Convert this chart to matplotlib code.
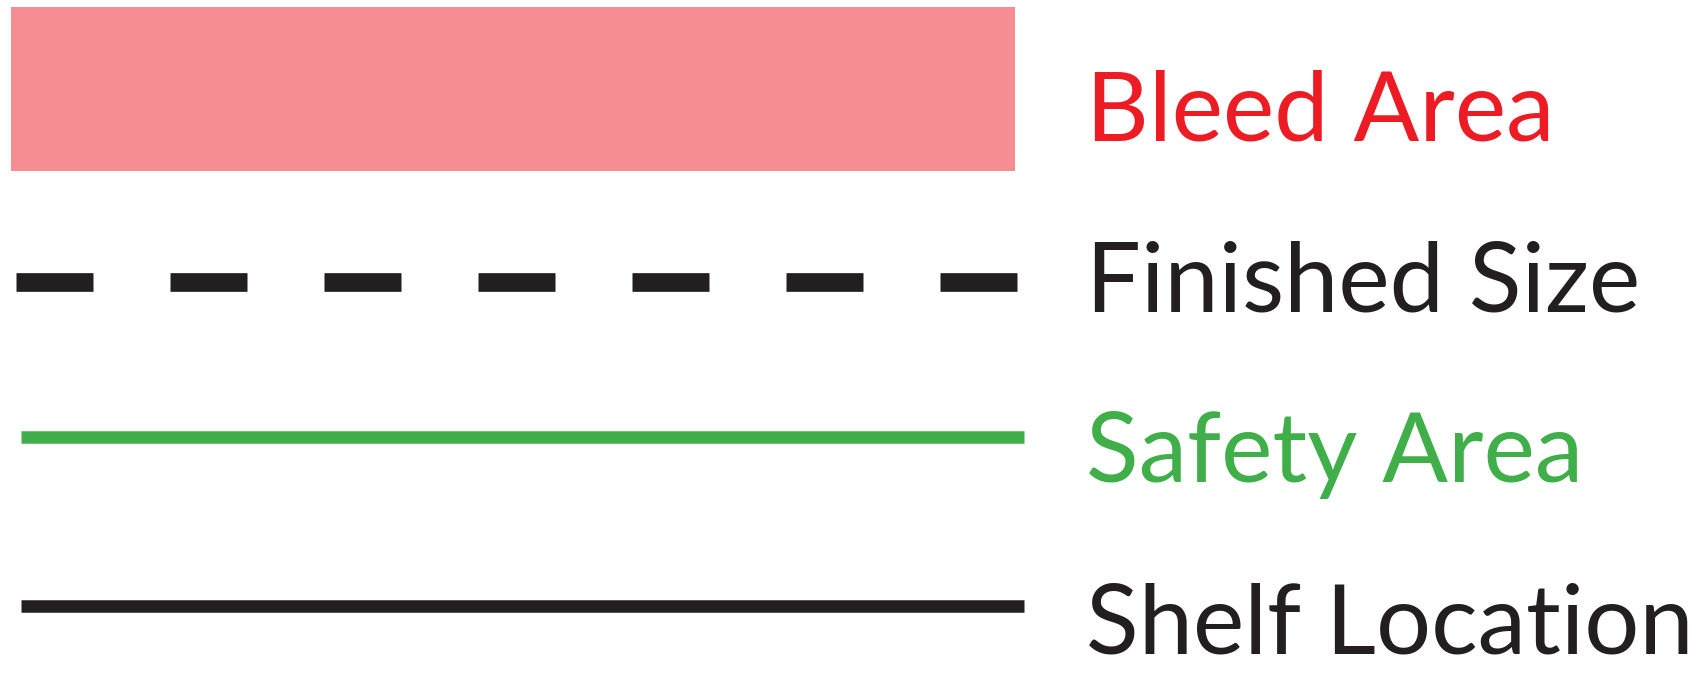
import matplotlib
matplotlib.use("Agg")
import matplotlib.pyplot as plt
from matplotlib.patches import Rectangle

plt.rcParams['lines.scale_dashes'] = False

# legend entries
labels = ["Bleed Area", "Finished Size", "Safety Area", "Shelf Location"]
kinds = ["fill", "dashed", "solid", "solid"]
mark_colors = ["#F68D92", "#231F20", "#40AE49", "#231F20"]
text_colors = ["#ED1C24", "#231F20", "#40AE49", "#231F20"]

# layout (pixels)
W, H = 1706, 682
text_x = 1086
baselines = [140.7, 312, 481.7, 653]
mark_y = [89, 282, 437, 606]
mark_thick = [164, 18.7, 12.5, 12.5]
mark_x0 = [11, 16, 20.7, 20.7]
mark_x1 = [1015, 1019, 1024, 1024]
dash_px = 77

fig = plt.figure(figsize=(W / 100, H / 100), dpi=100)
ax = fig.add_axes([0, 0, 1, 1])
ax.set_xlim(0, W)
ax.set_ylim(H, 0)
ax.axis('off')

px2pt = 72 / 100
for i, lab in enumerate(labels):
    if kinds[i] == "fill":
        ax.add_patch(Rectangle((mark_x0[i], 6.7), mark_x1[i] - mark_x0[i], mark_thick[i],
                               facecolor=mark_colors[i], edgecolor='none'))
    else:
        ln, = ax.plot([mark_x0[i], mark_x1[i]], [mark_y[i], mark_y[i]],
                      color=mark_colors[i], linewidth=mark_thick[i] * px2pt,
                      solid_capstyle='butt', dash_capstyle='butt')
        if kinds[i] == "dashed":
            ln.set_dashes((dash_px * px2pt, dash_px * px2pt))
    ax.text(text_x, baselines[i], lab, color=text_colors[i], family=['Lato', 'DejaVu Sans'],
            fontsize=70, va='baseline', ha='left')

fig.savefig("out.png", dpi=100)
